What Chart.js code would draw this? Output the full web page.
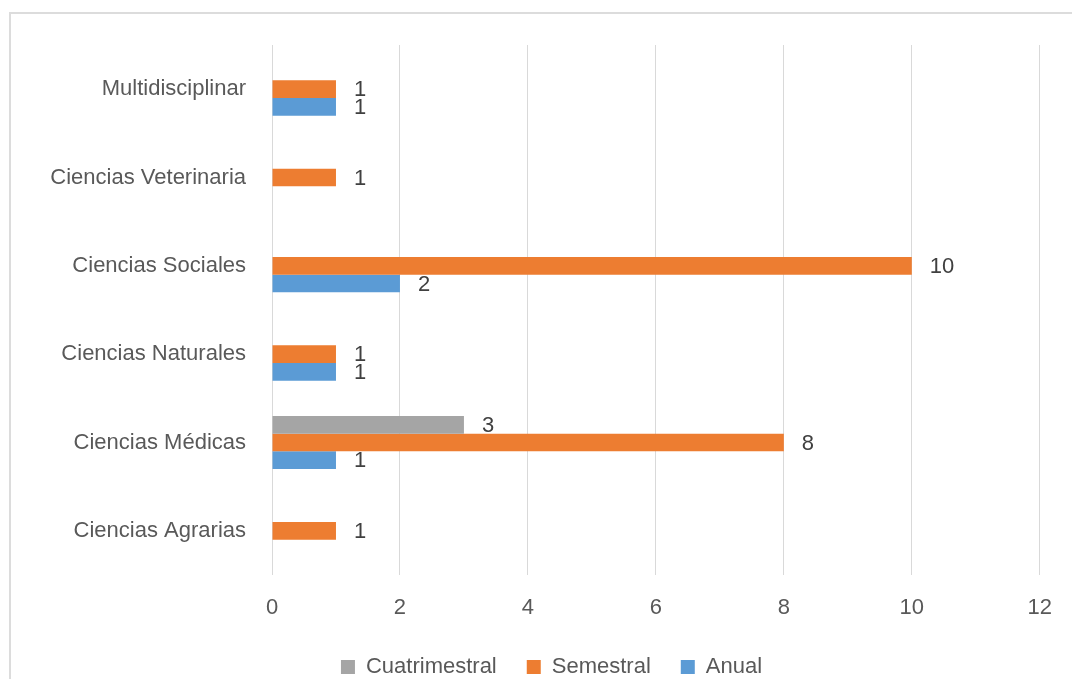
<!DOCTYPE html>
<html>
<head>
<meta charset="utf-8">
<script src="https://cdn.jsdelivr.net/npm/chart.js@4.4.1/dist/chart.umd.min.js"></script>
<style>
  html, body { margin: 0; padding: 0; background: #fff; overflow: hidden; width: 1072px; height: 679px; }
  #frame { position: absolute; left: 9px; top: 12px; width: 1100px; height: 700px; border: 2px solid #dcdcdc; }
  #c { position: absolute; left: 0; top: 0; }
</style>
</head>
<body>
<div id="frame"></div>
<canvas id="c" width="1072" height="688"></canvas>
<script>
// categorias (de arriba hacia abajo, como en el original)
const categories = ['Multidisciplinar', 'Ciencias Veterinaria', 'Ciencias Sociales', 'Ciencias Naturales', 'Ciencias Médicas', 'Ciencias Agrarias'];

// series
const cuatrimestral = [null, null, null, null, 3, null];
const semestral     = [1, 1, 10, 1, 8, 1];
const anual         = [1, null, 2, 1, 1, null];

const xTicks = [0, 2, 4, 6, 8, 10, 12];

const FONT = "'Liberation Sans', Arial, sans-serif";
const TEXT = '#595959';

// etiquetas de valor al final de cada barra
const valueLabels = {
    id: 'valueLabels',
    afterDatasetsDraw(chart) {
        const ctx = chart.ctx;
        ctx.save();
        ctx.font = '22px ' + FONT;
        ctx.fillStyle = '#404040';
        ctx.textAlign = 'left';
        ctx.textBaseline = 'middle';
        chart.data.datasets.forEach((ds, i) => {
            const meta = chart.getDatasetMeta(i);
            meta.data.forEach((bar, j) => {
                const v = ds.data[j];
                if (v === null || v === undefined) return;
                ctx.fillText(String(v), bar.x + 18, bar.y + 1);
            });
        });
        ctx.restore();
    }
};

// la leyenda del original queda algo a la derecha del centro
const legendShift = {
    id: 'legendShift',
    afterLayout(chart) {
        if (!chart.legend) return;
        chart.legend.left += 30;
        chart.legend.right += 30;
    }
};

new Chart(document.getElementById('c'), {
    type: 'bar',
    data: {
        labels: categories,
        datasets: [
            { label: 'Cuatrimestral', data: cuatrimestral, backgroundColor: '#A5A5A5' },
            { label: 'Semestral', data: semestral, backgroundColor: '#ED7D31' },
            { label: 'Anual', data: anual, backgroundColor: '#5B9BD5' }
        ]
    },
    options: {
        indexAxis: 'y',
        responsive: false,
        animation: false,
        devicePixelRatio: 1,
        layout: { padding: { top: 45, left: 0, right: 29, bottom: 0 } },
        datasets: { bar: { categoryPercentage: 0.6, barPercentage: 1, skipNull: false } },
        scales: {
            x: {
                min: 0, max: 12,
                afterBuildTicks: (s) => { s.ticks = xTicks.map(v => ({ value: v })); },
                afterFit: (s) => { s.height = 51; },
                grid: { color: '#d9d9d9', lineWidth: 1, drawTicks: false },
                border: { display: false },
                ticks: { color: TEXT, font: { family: FONT, size: 22 }, padding: 20 }
            },
            y: {
                afterFit: (s) => { s.width = 272; },
                grid: { display: false, drawTicks: false },
                border: { display: false },
                ticks: { color: TEXT, font: { family: FONT, size: 22 }, padding: 26 }
            }
        },
        plugins: {
            legend: {
                position: 'bottom',
                labels: {
                    color: TEXT,
                    font: { family: FONT, size: 22 },
                    boxWidth: 14, boxHeight: 14,
                    padding: 30
                }
            },
            tooltip: { enabled: false }
        }
    },
    plugins: [valueLabels, legendShift]
});
</script>
</body>
</html>
